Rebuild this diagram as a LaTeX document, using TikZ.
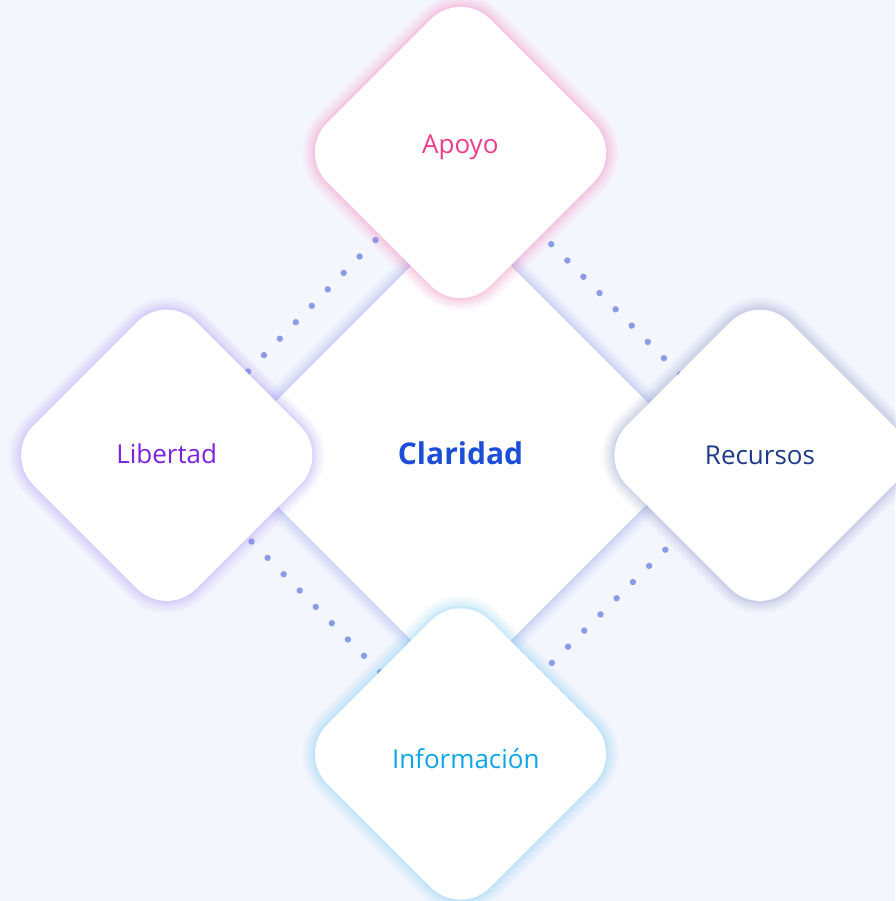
\documentclass[tikz,border=0pt]{standalone}
\usepackage{fontspec}
\setmainfont{Open Sans}
\usetikzlibrary{shapes.geometric,calc}
\definecolor{bgc}{HTML}{F4F6FE}
\definecolor{dotc}{HTML}{8A9CE8}
\definecolor{apoyoc}{HTML}{EC3D8E}
\definecolor{libc}{HTML}{7E22E0}
\definecolor{recc}{HTML}{1E3A8A}
\definecolor{infoc}{HTML}{0EA5E9}
\definecolor{clarc}{HTML}{1D4ED8}
\definecolor{gpink}{HTML}{F472B6}
\definecolor{gviolet}{HTML}{A78BFA}
\definecolor{ggrey}{HTML}{8593C4}
\definecolor{gsky}{HTML}{6CCBFA}
\definecolor{gblue}{HTML}{8FA0F5}
\tikzset{
  rdiam/.style={diamond, shape aspect=1, minimum width=326pt, minimum height=326pt,
    inner sep=0pt, outer sep=0pt, rounded corners=42pt, fill=white},
  bigdiam/.style={rdiam, minimum width=474pt, minimum height=474pt},
  glow/.style={
    preaction={draw=#1, draw opacity=0.025, line width=26pt},
    preaction={draw=#1, draw opacity=0.03, line width=23pt},
    preaction={draw=#1, draw opacity=0.035, line width=20pt},
    preaction={draw=#1, draw opacity=0.04, line width=17pt},
    preaction={draw=#1, draw opacity=0.045, line width=14pt},
    preaction={draw=#1, draw opacity=0.05, line width=11pt},
    preaction={draw=#1, draw opacity=0.06, line width=8pt},
    preaction={draw=#1, draw opacity=0.07, line width=5pt},
    preaction={draw=#1, draw opacity=0.08, line width=2.5pt}},
  lab/.style={anchor=base, inner sep=0pt, font=\fontsize{26}{30}\selectfont},
  dotmark/.style={fill=dotc},
}
\begin{document}
\begin{tikzpicture}[x=1pt,y=-1pt]
  \fill[bgc] (0,0) rectangle (895,901);
  \useasboundingbox (0,0) rectangle (895,901);

  % central diamond
  \node[bigdiam, glow=gblue] (clar) at (461,453) {};

  % coordinates of the outer diamonds (for the dotted links)
  \coordinate (pA) at (460.5,152.5);
  \coordinate (pL) at (166.7,455.3);
  \coordinate (pR) at (760,455.3);
  \coordinate (pI) at (460.5,754);

  % dotted links
  \foreach \i in {0,...,8}{
    \fill[dotmark] ($(pA)!{122pt+\i*22.9pt}!(pL)$) circle (3.2pt);
    \fill[dotmark] ($(pA)!{129pt+\i*22.9pt}!(pR)$) circle (3.2pt);
    \fill[dotmark] ($(pL)!{121pt+\i*22.9pt}!(pI)$) circle (3.2pt);
    \fill[dotmark] ($(pI)!{129pt+\i*22.9pt}!(pR)$) circle (3.2pt);
  }

  % outer diamonds
  \node[rdiam, glow=gpink] (apoyo) at (pA) {};
  \node[rdiam, glow=gviolet] (libertad) at (pL) {};
  \node[rdiam, glow=ggrey] (recursos) at (pR) {};
  \node[rdiam, glow=gsky] (info) at (pI) {};

  % labels
  \node[lab, text=apoyoc] (apoyoT) at (460.3,154) {Apoyo};
  \node[lab, text=libc] (libT) at (166.7,463.3) {Libertad};
  \node[lab, text=recc] (recT) at (760,464) {Recursos};
  \node[lab, text=infoc] (infoT) at (465.8,768.3) {Información};
  \node[lab, text=clarc, font=\fontsize{30}{34}\selectfont\bfseries] (clarT) at (460.5,464) {Claridad};
\end{tikzpicture}
\end{document}
